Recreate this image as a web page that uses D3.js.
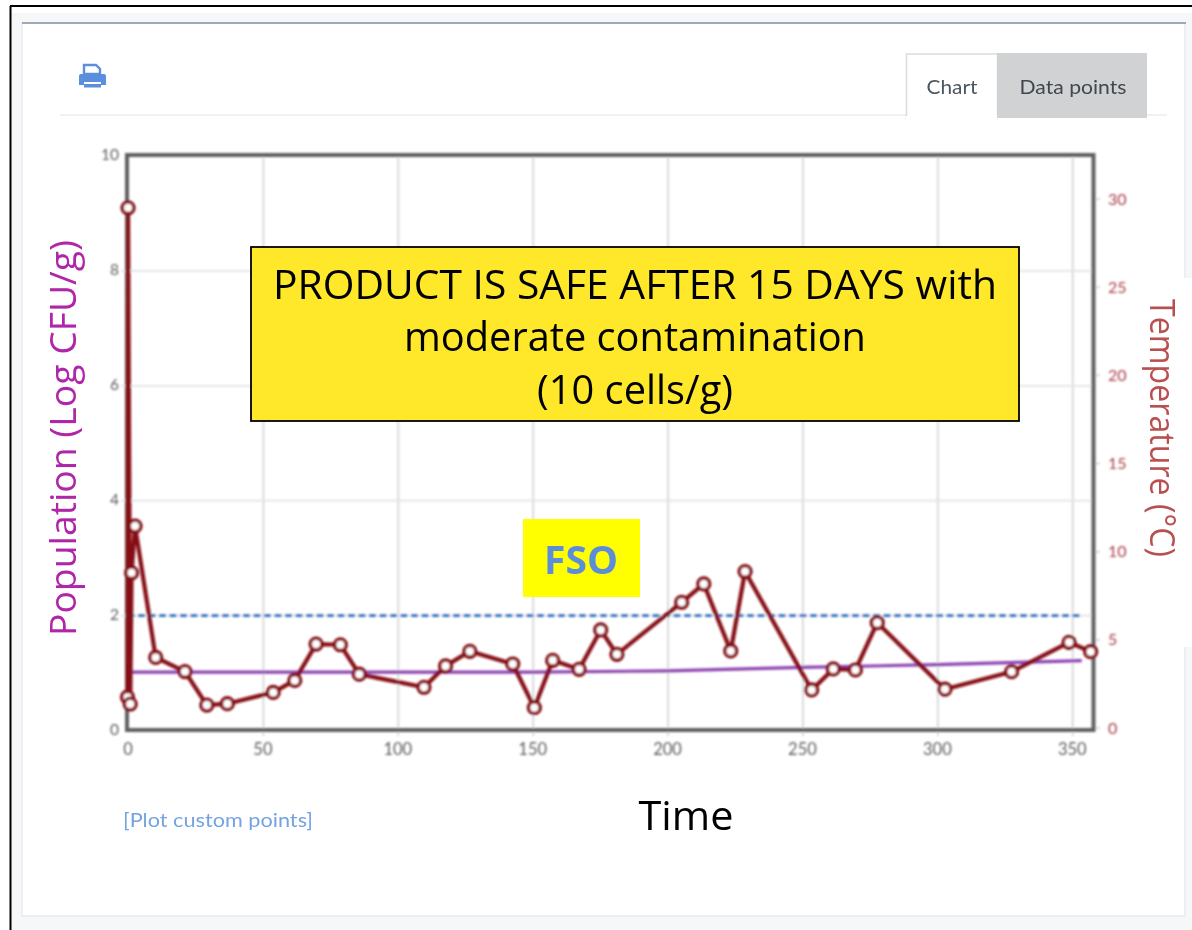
<!DOCTYPE html>
<html><head><meta charset="utf-8">
<script src="https://cdn.jsdelivr.net/npm/d3@7"></script>
<style>html,body{margin:0;padding:0;background:#fff;overflow:hidden}svg{display:block}</style>
</head><body><svg id="c" width="1192" height="930"></svg>
<script>
const tempTime=[0,0.2,1,1.5,2.8,10.45,21.3,29.4,37,54,62,69.9,78.9,85.9,109.9,117.9,126.9,142.8,150.8,157.6,167.4,175.4,181.4,205.4,213.6,223.6,228.9,253.6,261.6,269.8,277.9,303,327.7,349,357];
const tempValues=[1.75,29.5,1.36,8.8,11.45,4.0,3.2,1.3,1.38,2.02,2.7,4.76,4.72,3.05,2.31,3.52,4.35,3.63,1.15,3.84,3.33,5.56,4.18,7.13,8.17,4.37,8.87,2.16,3.35,3.29,5.97,2.2,3.19,4.86,4.33];
const popTime=[1,100,150,200,250,300,353.7];
const popValues=[1.0,1.0,1.0,1.02,1.08,1.13,1.2];
const fsoTime=[0,354];
const fsoValues=[2,2];
const xTicks=[0,50,100,150,200,250,300,350];
const popTicks=[0,2,4,6,8,10];
const tempTicks=[0,5,10,15,20,25,30];
const bannerLines=["PRODUCT IS SAFE AFTER 15 DAYS with","moderate contamination","(10 cells/g)"];

const svg=d3.select("#c");
const defs=svg.append("defs");
const addBlur=(id,sd)=>defs.append("filter").attr("id",id).attr("filterUnits","userSpaceOnUse").attr("x",0).attr("y",0).attr("width",1192).attr("height",930)
  .append("feGaussianBlur").attr("stdDeviation",sd);
addBlur("soft",1.0);
addBlur("softT",0.75);

const x=d3.scaleLinear().domain([0,357.5]).range([127.5,1092]);
const yPop=d3.scaleLinear().domain([0,10]).range([729.5,155]);
const yTemp=d3.scaleLinear().domain([0,30]).range([728,199]);

// page panel
svg.append("rect").attr("x",10).attr("y",13).attr("width",1182).attr("height",917).attr("fill","#f6f7f9");
svg.append("rect").attr("x",22).attr("y",23).attr("width",1163).attr("height",893).attr("fill","#fff").attr("stroke","#e8eaee").attr("stroke-width",1.5);
svg.append("line").attr("x1",22).attr("x2",1186).attr("y1",23).attr("y2",23).attr("stroke","#8491a6").attr("stroke-width",1.6);
svg.append("rect").attr("x",1140).attr("y",278).attr("width",52).attr("height",369).attr("fill","#fff");
svg.append("line").attr("x1",10.5).attr("x2",10.5).attr("y1",6).attr("y2",930).attr("stroke","#000").attr("stroke-width",2);
svg.append("line").attr("x1",10).attr("x2",1192).attr("y1",6).attr("y2",6).attr("stroke","#000").attr("stroke-width",2);

const ui=svg.append("g").attr("filter","url(#softT)");
ui.append("line").attr("x1",60).attr("x2",1167).attr("y1",115).attr("y2",115).attr("stroke","#eceded").attr("stroke-width",1.5);
ui.append("rect").attr("x",906.5).attr("y",54).attr("width",91).attr("height",66).attr("fill","#fff").attr("stroke","#dcdcdc").attr("stroke-width",1.5);
ui.append("rect").attr("x",906).attr("y",116).attr("width",92).attr("height",6).attr("fill","#fff");
ui.append("rect").attr("x",997).attr("y",53).attr("width",150).attr("height",65).attr("fill","#d1d2d3");
ui.append("text").attr("x",952).attr("y",94).attr("text-anchor","middle").attr("font-family","Lato").attr("font-size",20).attr("fill","#4a5560").attr("textLength",51).attr("lengthAdjust","spacingAndGlyphs").text("Chart");
ui.append("text").attr("x",1073).attr("y",94).attr("text-anchor","middle").attr("font-family","Lato").attr("font-size",20).attr("fill","#404650").attr("textLength",107).attr("lengthAdjust","spacingAndGlyphs").text("Data points");
// print icon
const icon=ui.append("g").attr("fill","#5a8fe0").attr("transform","translate(0,2)");
icon.append("path").attr("d","M84 72V63h12l4 4v5z").attr("fill","none").attr("stroke","#5a8fe0").attr("stroke-width",2.4);
icon.append("path").attr("d","M81 72h23a2 2 0 0 1 2 2v9h-5v-3H84v3h-5v-9a2 2 0 0 1 2-2z");
icon.append("rect").attr("x",84).attr("y",82).attr("width",17).attr("height",3.5);
ui.append("text").attr("x",123).attr("y",827).attr("font-family","Lato").attr("font-size",20).attr("fill","#74a3e2").attr("textLength",190).attr("lengthAdjust","spacingAndGlyphs").text("[Plot custom points]");

// chart
const plot=svg.append("g").attr("filter","url(#soft)");
const grid=plot.append("g");
grid.selectAll(".gx").data(xTicks.filter(d=>d>0)).join("line").attr("x1",d=>x(d)+1).attr("x2",d=>x(d)+1).attr("y1",155).attr("y2",736).attr("stroke","#d9dadc").attr("stroke-width",2);
grid.selectAll(".gy").data(popTicks.filter(d=>d>0&&d<10)).join("line").attr("x1",121).attr("x2",1093).attr("y1",d=>yPop(d)+1).attr("y2",d=>yPop(d)+1).attr("stroke","#e2e3e5").attr("stroke-width",1.8);

const axisStyle=(g,color,size)=>{g.select(".domain").remove();g.selectAll("line").remove();
  g.selectAll("text").attr("font-family","Lato").attr("font-size",size).attr("fill",color);};
plot.append("g").attr("transform","translate(0,730)").call(d3.axisBottom(x).tickValues(xTicks).tickSize(0).tickPadding(13)).call(axisStyle,"#5e5e5e",16.5);
plot.append("g").attr("transform","translate(119,0)").call(d3.axisLeft(yPop).tickValues(popTicks).tickSize(0).tickPadding(0)).call(axisStyle,"#5e5e5e",15.5);
plot.append("g").attr("transform","translate(1108,0)").call(d3.axisRight(yTemp).tickValues(tempTicks).tickSize(0).tickPadding(0)).call(axisStyle,"#a83d4a",16);
plot.selectAll(".rt").data(tempTicks).join("line").attr("x1",1094).attr("x2",1100).attr("y1",d=>yTemp(d)).attr("y2",d=>yTemp(d)).attr("stroke","#cfcfcf").attr("stroke-width",1.5);

plot.append("path").attr("d",d3.line()(fsoTime.map((t,i)=>[x(t),yPop(fsoValues[i])+1]))).attr("fill","none").attr("stroke","#2f70c0").attr("stroke-width",2.6).attr("stroke-dasharray","7 3.5");
plot.append("path").attr("d",d3.line()(popTime.map((t,i)=>[x(t),yPop(popValues[i])]))).attr("fill","none").attr("stroke","#8c42b0").attr("stroke-width",3.2);
plot.append("rect").attr("x",127).attr("y",155).attr("width",966.5).attr("height",575).attr("fill","none").attr("stroke","#5e5e5e").attr("stroke-width",4);
const pts=tempTime.map((t,i)=>[x(t),yTemp(tempValues[i])]);
plot.append("path").attr("d",d3.line()(pts)).attr("fill","none").attr("stroke","#860d12").attr("stroke-width",4.2).attr("stroke-linejoin","round");
plot.selectAll("circle").data(pts).join("circle").attr("cx",d=>d[0]).attr("cy",d=>d[1]).attr("r",5.8).attr("fill","#fff").attr("stroke","#860d12").attr("stroke-width",3.6);

// crisp overlays
const font="'Open Sans','Noto Sans',sans-serif";
svg.append("rect").attr("x",251).attr("y",247).attr("width",768).attr("height",174).attr("fill","#ffe829").attr("stroke","#000").attr("stroke-width",1.8);
const by=[299,351,404], bw=[724,462,196];
svg.selectAll(".bn").data(bannerLines).join("text").attr("x",635).attr("y",(d,i)=>by[i]).attr("text-anchor","middle")
  .attr("font-family",font).attr("font-size",41).attr("fill","#000")
  .attr("textLength",(d,i)=>bw[i]).attr("lengthAdjust","spacingAndGlyphs").text(d=>d);
svg.append("rect").attr("x",523).attr("y",519).attr("width",117).attr("height",78).attr("fill","#ffff00");
svg.append("text").attr("x",581).attr("y",574).attr("text-anchor","middle").attr("font-family",font).attr("font-weight",700).attr("font-size",40).attr("fill","#5b8dd9").attr("textLength",74).attr("lengthAdjust","spacingAndGlyphs").text("FSO");
svg.append("text").attr("x",686).attr("y",830).attr("text-anchor","middle").attr("font-family",font).attr("font-size",41).attr("fill","#000").attr("textLength",95).attr("lengthAdjust","spacingAndGlyphs").text("Time");
svg.append("text").attr("transform","translate(76,438) rotate(-90)").attr("text-anchor","middle").attr("font-family",font).attr("font-size",36).attr("fill","#b026a8").attr("textLength",396).attr("lengthAdjust","spacingAndGlyphs").text("Population (Log CFU/g)");
svg.append("text").attr("transform","translate(1150,428) rotate(90)").attr("text-anchor","middle").attr("font-family",font).attr("font-size",35).attr("fill","#b9504f").attr("textLength",258).attr("lengthAdjust","spacingAndGlyphs").text("Temperature (°C)");
</script></body></html>
